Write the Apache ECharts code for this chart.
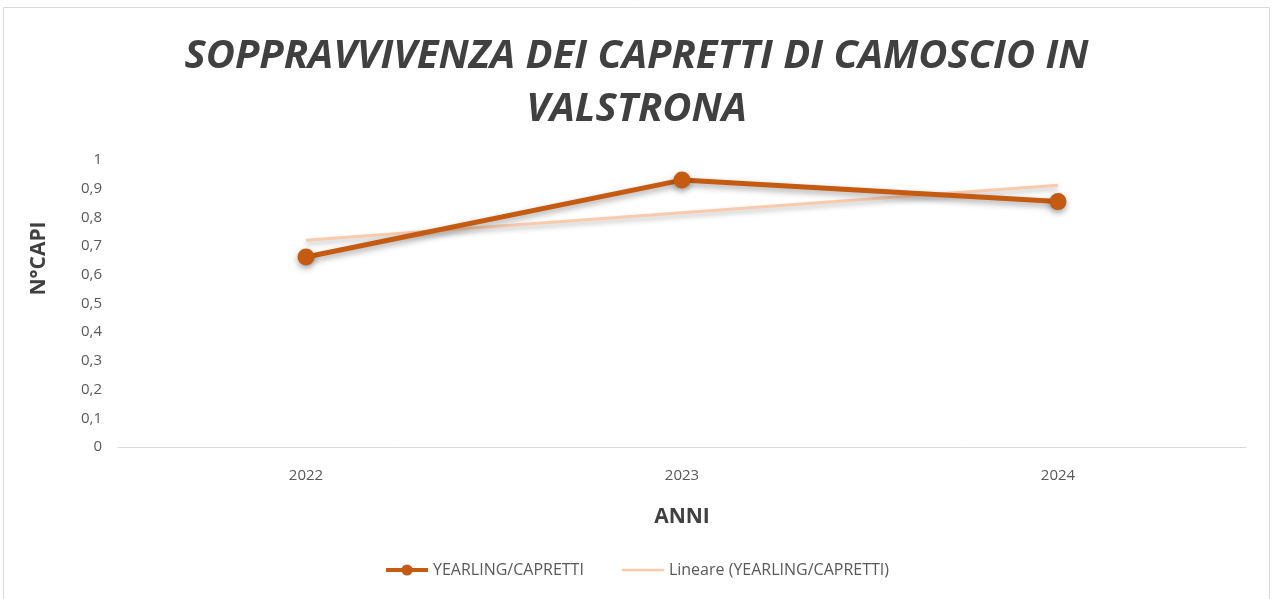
<!DOCTYPE html>
<html>
<head>
<meta charset="utf-8">
<script src="https://cdn.jsdelivr.net/npm/echarts@6/dist/echarts.min.js"></script>
<style>
html,body{margin:0;padding:0;background:#fff;}
#main{width:1273px;height:599px;}
</style>
</head>
<body>
<div id="main"></div>
<script>
var years = ['2022', '2023', '2024'];
var yearlingValues = [0.662, 0.93, 0.855];
var trendValues = [0.72, 0.816, 0.912];
var yTicks = [0, 0.1, 0.2, 0.3, 0.4, 0.5, 0.6, 0.7, 0.8, 0.9, 1];

var myChart = echarts.init(document.getElementById('main'));
var option = {
    backgroundColor: '#fff',
    animation: false,
    title: {
        text: 'SOPPRAVVIVENZA DEI CAPRETTI DI CAMOSCIO IN\nVALSTRONA',
        left: 'center',
        top: 25,
        textStyle: {
            fontFamily: 'Open Sans',
            fontSize: 40,
            fontWeight: 'bold',
            fontStyle: 'italic',
            color: '#404040',
            lineHeight: 53
        }
    },
    graphic: [{
        type: 'rect',
        shape: {x: 3.5, y: 7.5, width: 1266, height: 600},
        style: {fill: 'none', stroke: '#d9d9d9', lineWidth: 1},
        silent: true
    }],
    legend: {
        bottom: 16,
        left: 'center',
        itemGap: 38,
        itemWidth: 42,
        itemHeight: 14,
        textStyle: {fontFamily: 'Open Sans', fontSize: 16, color: '#595959'},
        data: [
            {name: 'YEARLING/CAPRETTI', lineStyle: {width: 4}},
            {name: 'Lineare (YEARLING/CAPRETTI)', icon: 'path://M0,0 H46 V3 H0 Z'}
        ]
    },
    grid: {left: 118, right: 27, top: 160, bottom: 152},
    xAxis: {
        type: 'category',
        data: years,
        name: 'ANNI',
        nameLocation: 'middle',
        nameGap: 60,
        nameTextStyle: {fontFamily: 'Open Sans', fontSize: 21, fontWeight: 'bold', color: '#404040'},
        axisLine: {lineStyle: {color: '#d9d9d9', width: 1}},
        axisTick: {show: false},
        axisLabel: {fontFamily: 'Open Sans', fontSize: 15, color: '#595959', margin: 21}
    },
    yAxis: {
        type: 'value',
        min: 0,
        max: 1,
        interval: 0.1,
        name: 'N°CAPI',
        nameLocation: 'middle',
        nameGap: 68,
        nameRotate: 90,
        nameTextStyle: {fontFamily: 'Open Sans', fontSize: 21, fontWeight: 'bold', color: '#404040', padding: [0, 0, 0, 90]},
        axisLine: {show: false},
        axisTick: {show: false},
        splitLine: {show: false},
        axisLabel: {
            fontFamily: 'Open Sans', fontSize: 15, color: '#595959', margin: 16,
            formatter: function (v) {
                var t = yTicks.reduce(function (a, b) { return Math.abs(b - v) < Math.abs(a - v) ? b : a; });
                return t === 0 || t === 1 ? String(t) : t.toFixed(1).replace('.', ',');
            }
        }
    },
    series: [
        {
            name: 'YEARLING/CAPRETTI',
            type: 'line',
            data: yearlingValues,
            symbol: 'circle',
            symbolSize: 17,
            z: 3,
            itemStyle: {color: '#C55A11', shadowBlur: 6, shadowColor: 'rgba(0,0,0,0.35)', shadowOffsetY: 3},
            lineStyle: {color: '#C55A11', width: 5, shadowBlur: 6, shadowColor: 'rgba(0,0,0,0.35)', shadowOffsetY: 3}
        },
        {
            name: 'Lineare (YEARLING/CAPRETTI)',
            type: 'line',
            data: trendValues,
            symbol: 'none',
            z: 2,
            itemStyle: {color: '#F8CBAD'},
            lineStyle: {color: '#F8CBAD', width: 3, shadowBlur: 5, shadowColor: 'rgba(0,0,0,0.25)', shadowOffsetY: 3}
        }
    ]
};
myChart.setOption(option);
</script>
</body>
</html>
